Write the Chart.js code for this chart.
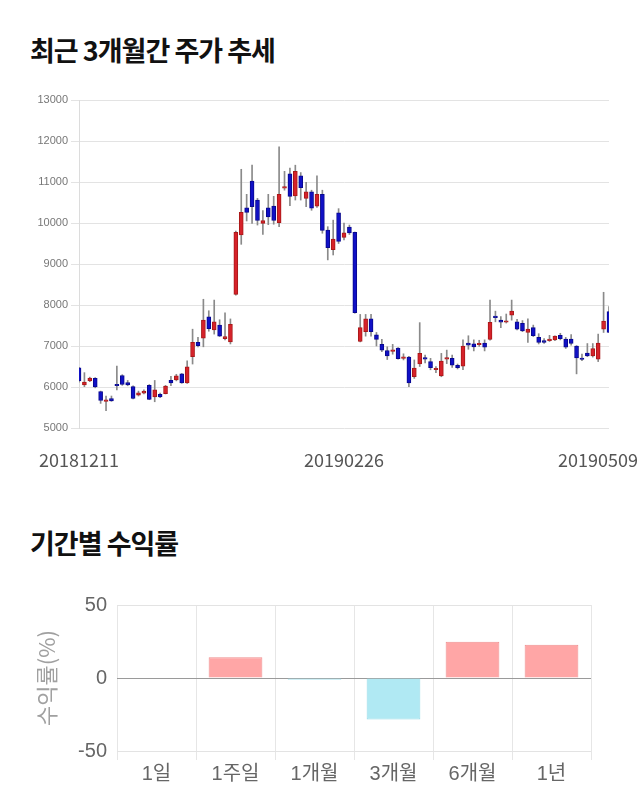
<!DOCTYPE html>
<html>
<head>
<meta charset="utf-8">
<script src="https://cdn.jsdelivr.net/npm/chart.js@4.4.1/dist/chart.umd.min.js"></script>
<style>
  body { margin: 0; background: #fff; width: 640px; height: 810px; position: relative; overflow: hidden; }
  h2 { position: absolute; left: 30px; margin: 0; font-family: "Noto Sans CJK KR", sans-serif; font-weight: bold;
       font-size: 27px; line-height: 27px; color: #111; letter-spacing: -1px; }
  #t1 { top: 36px; }
  #t2 { top: 529px; }
  #priceChart { position: absolute; left: 0; top: 80px; }
  #returnChart { position: absolute; left: 0; top: 580px; }
</style>
</head>
<body>
<h2 id="t1">최근 3개월간 주가 추세</h2>
<canvas id="priceChart" width="640" height="400"></canvas>
<h2 id="t2">기간별 수익률</h2>
<canvas id="returnChart" width="640" height="220"></canvas>

<script>
// 일별 시세 (2018.12.11 ~ 2019.05.09)
const dates = [
  '20181211','20181212','20181213','20181214','20181217','20181218','20181219','20181220','20181221','20181224',
  '20181226','20181227','20181228','20190102','20190103','20190104','20190107','20190108','20190109','20190110',
  '20190111','20190114','20190115','20190116','20190117','20190118','20190121','20190122','20190123','20190124',
  '20190125','20190128','20190129','20190130','20190131','20190201','20190207','20190208','20190211','20190212',
  '20190213','20190214','20190215','20190218','20190219','20190220','20190221','20190222','20190225','20190226',
  '20190227','20190228','20190304','20190305','20190306','20190307','20190308','20190311','20190312','20190313',
  '20190314','20190315','20190318','20190319','20190320','20190321','20190322','20190325','20190326','20190327',
  '20190328','20190329','20190401','20190402','20190403','20190404','20190405','20190408','20190409','20190410',
  '20190411','20190412','20190415','20190416','20190417','20190418','20190419','20190422','20190423','20190424',
  '20190425','20190426','20190429','20190430','20190502','20190503','20190507','20190508','20190509'
];
const opens = [
  6470, 6050, 6150, 6210, 5890, 5650, 5715, 6060, 6280, 6110,
  6010, 5800, 5850, 6040, 5760, 5820, 5840, 6160, 6170, 6320,
  6100, 6740, 7090, 7190, 7710, 7390, 7510, 7180, 7100, 8260,
  9710, 10370, 11020, 10560, 9990, 10370, 10410, 10010, 10850, 11200,
  10660, 11150, 10600, 10760, 10410, 10700, 9830, 9350, 10250, 9650,
  9900, 9770, 7110, 7350, 7660, 7270, 7040, 6890, 6870, 6950,
  6700, 6730, 6250, 6560, 6720, 6620, 6420, 6270, 6680, 6700,
  6530, 6510, 7070, 7050, 7030, 7070, 7160, 7730, 7630, 7580,
  7750, 7590, 7550, 7330, 7450, 7210, 7130, 7130, 7150, 7260,
  7170, 7170, 7000, 6700, 6830, 6760, 6680, 7410, 7840
];
const highs = [
  6480, 6350, 6240, 6230, 5900, 5780, 5780, 6510, 6300, 6160,
  6030, 5900, 5930, 6060, 6160, 5850, 6040, 6260, 6310, 6330,
  6640, 7410, 7210, 8140, 7860, 8120, 7640, 7810, 7660, 9800,
  11310, 10700, 11410, 10600, 10300, 10700, 10650, 11860, 11260, 11340,
  11410, 11230, 10990, 10800, 11150, 10800, 9910, 10070, 10350, 10000,
  9950, 9780, 7770, 7770, 7770, 7330, 7160, 6980, 7040, 6960,
  6810, 6750, 6660, 7570, 6780, 6700, 6500, 6820, 6900, 6780,
  6560, 7150, 7250, 7150, 7140, 7150, 8120, 7850, 7720, 7780,
  8120, 7650, 7620, 7660, 7510, 7300, 7180, 7260, 7250, 7310,
  7210, 7280, 7010, 6800, 7060, 7060, 7290, 8310, 7960
];
const lows = [
  6120, 6010, 6130, 5980, 5600, 5420, 5650, 5930, 6040, 6030,
  5710, 5780, 5830, 5690, 5640, 5740, 5830, 6030, 6150, 6090,
  6090, 6560, 6980, 6980, 7360, 7290, 7230, 7150, 7050, 8240,
  9480, 10050, 9990, 9950, 9720, 9960, 9970, 9910, 10800, 10420,
  10560, 10560, 10400, 10310, 10380, 9750, 9100, 9220, 9500, 9590,
  9720, 7800, 7100, 7240, 7240, 7000, 6860, 6670, 6800, 6680,
  6660, 6010, 6210, 6500, 6590, 6420, 6350, 6250, 6570, 6480,
  6440, 6420, 6920, 6880, 6990, 6880, 7140, 7590, 7450, 7560,
  7630, 7390, 7350, 7090, 7230, 7050, 7060, 7110, 7130, 7150,
  6940, 7020, 6320, 6640, 6740, 6730, 6620, 7330, 7330
];
const closes = [
  6150, 6120, 6220, 6000, 5670, 5670, 5660, 6030, 6060, 6050,
  5720, 5860, 5900, 5700, 5930, 5760, 6020, 6100, 6270, 6100,
  6490, 7090, 7010, 7630, 7420, 7590, 7240, 7230, 7530, 9770,
  10260, 10260, 10400, 10060, 10060, 10150, 10060, 10700, 10870, 10650,
  11260, 10860, 10760, 10360, 10700, 9820, 9400, 9610, 9550, 9760,
  9760, 7810, 7450, 7660, 7350, 7160, 6900, 6760, 6890, 6690,
  6720, 6100, 6460, 6820, 6680, 6470, 6430, 6630, 6700, 6530,
  6470, 7000, 7020, 6980, 7060, 6970, 7580, 7690, 7580, 7610,
  7850, 7410, 7370, 7410, 7250, 7090, 7090, 7170, 7240, 7180,
  6970, 7060, 6710, 6670, 6760, 6940, 7070, 7610, 7330
];
const dateTickIdx = [0, 49, 98];

// 기간별 수익률 (%)
const periods = ['1일', '1주일', '1개월', '3개월', '6개월', '1년'];
const returns = [0, 14.2, -1.2, -28.5, 24.9, 22.8];

const upFill = '#d6222a', upLine = '#a81818';
const downFill = '#1010c6', downLine = '#08088e';
const bodyFill = closes.map((c, i) => c >= opens[i] ? upFill : downFill);
const bodyLine = closes.map((c, i) => c >= opens[i] ? upLine : downLine);

// x축 날짜는 직접 그림 (마지막 라벨이 캔버스 밖으로 나가지 않게)
const dateLabels = {
  id: 'dateLabels',
  afterDraw(chart) {
    const ctx = chart.ctx;
    const x = chart.scales.x;
    ctx.save();
    ctx.font = '18px "Noto Sans CJK KR", sans-serif';
    ctx.fillStyle = '#555';
    ctx.textBaseline = 'middle';
    dateTickIdx.forEach(i => {
      const w = ctx.measureText(dates[i]).width;
      let px = x.getPixelForValue(i) - w / 2;
      px = Math.max(2, Math.min(px, chart.width - w - 2));
      ctx.fillText(dates[i], px, chart.chartArea.bottom + 32);
    });
    ctx.restore();
  }
};

new Chart(document.getElementById('priceChart'), {
  type: 'bar',
  data: {
    labels: dates,
    datasets: [
      {
        label: 'body',
        data: opens.map((o, i) => [o, closes[i]]),
        backgroundColor: bodyFill,
        borderColor: bodyLine,
        borderWidth: 1,
        borderSkipped: false,
        barThickness: 4,
        minBarLength: 1.5,
        grouped: false,
        order: 1
      },
      {
        label: 'wick',
        data: lows.map((l, i) => [l, highs[i]]),
        backgroundColor: '#8a8a8a',
        barThickness: 1,
        grouped: false,
        order: 2
      }
    ]
  },
  options: {
    responsive: false,
    animation: false,
    devicePixelRatio: 1,
    layout: { padding: { top: 20, right: 31, left: 0, bottom: 0 } },
    plugins: { legend: { display: false }, tooltip: { enabled: false } },
    scales: {
      x: {
        offset: false,
        grid: { display: false },
        border: { display: false },
        ticks: { display: false },
        afterFit: s => { s.height = 52; }
      },
      y: {
        min: 5000,
        max: 13000,
        ticks: {
          stepSize: 1000, color: '#777', padding: 3,
          font: { family: 'Liberation Sans', size: 11 },
          callback: v => String(v)
        },
        grid: { color: '#e3e3e3', tickLength: 8 },
        border: { color: '#dcdcdc' },
        afterFit: s => { s.width = 79; }
      }
    }
  },
  plugins: [dateLabels]
});

new Chart(document.getElementById('returnChart'), {
  type: 'bar',
  data: {
    labels: periods,
    datasets: [{
      data: returns,
      backgroundColor: returns.map(v => v >= 0 ? '#ffa6a6' : '#b0e9f3'),
      borderColor: returns.map(v => v >= 0 ? '#f08e8e' : '#94dbe8'),
      borderWidth: 1,
      barPercentage: 0.85,
      categoryPercentage: 0.8
    }]
  },
  options: {
    responsive: false,
    animation: false,
    devicePixelRatio: 1,
    layout: { padding: { top: 25, right: 49, left: 0, bottom: 0 } },
    plugins: { legend: { display: false }, tooltip: { enabled: false } },
    scales: {
      x: {
        grid: { color: '#e6e6e6', tickLength: 9 },
        border: { display: false },
        ticks: { color: '#666', padding: 2, font: { family: '"Liberation Sans", "Noto Sans CJK KR"', size: 20 } },
        afterFit: s => { s.height = 49; }
      },
      y: {
        min: -50,
        max: 50,
        ticks: { stepSize: 50, color: '#666', padding: 10, font: { family: 'Liberation Sans', size: 20 } },
        grid: { color: c => c.tick.value === 0 ? '#9a9a9a' : '#e3e3e3', drawTicks: false },
        border: { display: false },
        title: {
          display: true,
          text: '수익률(%)',
          color: '#a0a0a0',
          font: { family: '"Noto Sans CJK KR"', size: 22 },
          padding: { top: 33, bottom: 0 }
        },
        afterFit: s => { s.width = 117; }
      }
    }
  }
});
</script>
</body>
</html>
